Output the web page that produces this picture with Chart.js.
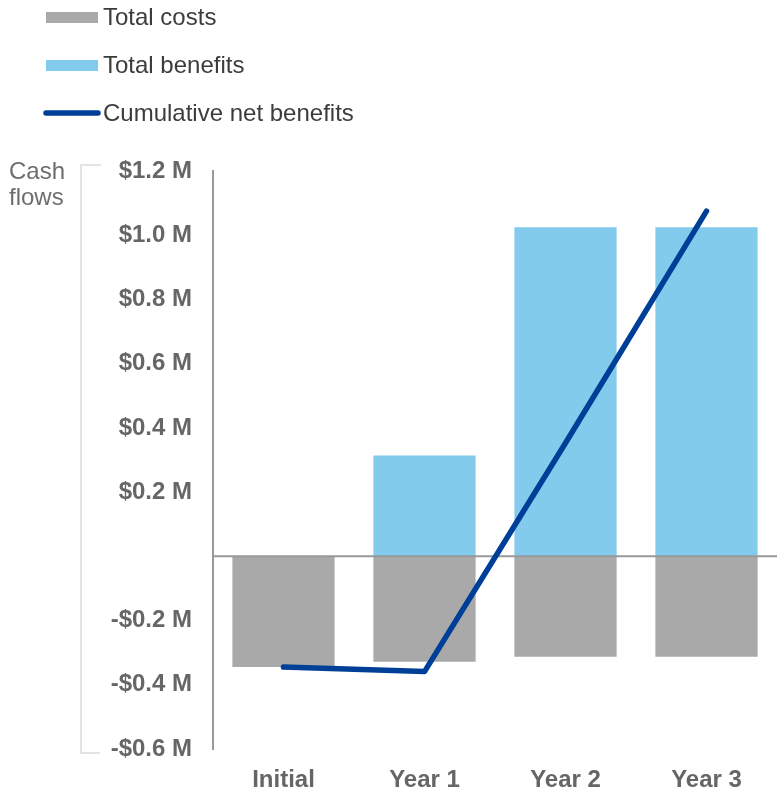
<!DOCTYPE html>
<html>
<head>
<meta charset="utf-8">
<script src="https://cdn.jsdelivr.net/npm/chart.js@4"></script>
<style>
  html, body { margin: 0; padding: 0; background: #fff; }
  #wrap { width: 777px; height: 791px; position: relative; }
</style>
</head>
<body>
<div id="wrap"><canvas id="c"></canvas></div>
<script>
const categories = ['Initial', 'Year 1', 'Year 2', 'Year 3'];
const totalCosts = [-0.345, -0.328, -0.313, -0.313];
const totalBenefits = [0, 0.314, 1.025, 1.025];
const cumulativeNet = [-0.345, -0.359, 0.353, 1.075];
const yTickValues = [-0.6, -0.4, -0.2, 0, 0.2, 0.4, 0.6, 0.8, 1.0, 1.2];
const yTickLabels = ['-$0.6 M', '-$0.4 M', '-$0.2 M', '', '$0.2 M', '$0.4 M', '$0.6 M', '$0.8 M', '$1.0 M', '$1.2 M'];
const legendLabels = ['Total costs', 'Total benefits', 'Cumulative net benefits'];
const axisTitle = ['Cash', 'flows'];

const FONT = '"Liberation Sans", Arial, Helvetica, sans-serif';
const COST = '#a9a9a9', BEN = '#82cbed', NET = '#003f98';

const zeroLine = {
  id: 'zeroLine',
  beforeDatasetDraw(chart, args) {
    if (args.index !== 2) return;
    const y = chart.scales.y.getPixelForValue(0);
    const ctx = chart.ctx;
    ctx.save();
    ctx.strokeStyle = '#999';
    ctx.lineWidth = 2;
    ctx.beginPath();
    ctx.moveTo(chart.chartArea.left, y);
    ctx.lineTo(chart.chartArea.right, y);
    ctx.stroke();
    ctx.restore();
  }
};

const decor = {
  id: 'decor',
  afterDraw(chart) {
    const ctx = chart.ctx;
    ctx.save();
    ctx.font = '24px ' + FONT;
    ctx.textBaseline = 'alphabetic';
    ctx.textAlign = 'left';
    ctx.fillStyle = COST;
    ctx.fillRect(46, 12, 52, 11);
    ctx.fillStyle = BEN;
    ctx.fillRect(46, 60, 52, 11);
    ctx.strokeStyle = NET;
    ctx.lineWidth = 5.5;
    ctx.lineCap = 'round';
    ctx.beginPath();
    ctx.moveTo(46, 113);
    ctx.lineTo(98, 113);
    ctx.stroke();
    ctx.fillStyle = '#3c3c3c';
    ctx.fillText(legendLabels[0], 103, 25);
    ctx.fillText(legendLabels[1], 103, 73);
    ctx.fillText(legendLabels[2], 103, 121);
    ctx.fillStyle = '#6e6e6e';
    ctx.fillText(axisTitle[0], 9, 179);
    ctx.fillText(axisTitle[1], 9, 205);
    ctx.strokeStyle = '#dcdcdc';
    ctx.lineWidth = 1.5;
    ctx.lineCap = 'butt';
    ctx.beginPath();
    ctx.moveTo(101, 165);
    ctx.lineTo(81, 165);
    ctx.lineTo(81, 753);
    ctx.lineTo(100, 753);
    ctx.stroke();
    ctx.restore();
  }
};

new Chart(document.getElementById('c'), {
  type: 'bar',
  data: {
    labels: categories,
    datasets: [
      { label: legendLabels[0], data: totalCosts, backgroundColor: COST, order: 1,
        barPercentage: 0.725, categoryPercentage: 1 },
      { label: legendLabels[1], data: totalBenefits, backgroundColor: BEN, order: 1,
        barPercentage: 0.725, categoryPercentage: 1 },
      { type: 'line', label: legendLabels[2], data: cumulativeNet, borderColor: NET,
        borderWidth: 5.5, borderCapStyle: 'round', borderJoinStyle: 'round',
        pointRadius: 0, tension: 0, fill: false, order: 0 }
    ]
  },
  options: {
    responsive: true,
    maintainAspectRatio: false,
    animation: false,
    layout: { padding: { top: 171, left: 0, right: 0, bottom: 0 } },
    plugins: { legend: { display: false }, tooltip: { enabled: false } },
    scales: {
      x: {
        stacked: true,
        grid: { display: false, drawTicks: false },
        border: { display: false },
        ticks: { color: '#666', font: { family: FONT, size: 24, weight: 'bold' }, padding: 17 },
        afterFit(s) { s.height = 42; }
      },
      y: {
        min: -0.6, max: 1.2,
        afterBuildTicks(s) { s.ticks = yTickValues.map(v => ({ value: v })); },
        grid: { display: false, drawTicks: false },
        border: { display: true, color: '#999', width: 2 },
        ticks: {
          color: '#666', font: { family: FONT, size: 24, weight: 'bold' }, padding: 21,
          callback(v) {
            const i = yTickValues.findIndex(t => Math.abs(t - v) < 1e-9);
            return i >= 0 ? yTickLabels[i] : '';
          }
        },
        afterFit(s) { s.width = 213; }
      }
    }
  },
  plugins: [zeroLine, decor]
});
</script>
</body>
</html>
